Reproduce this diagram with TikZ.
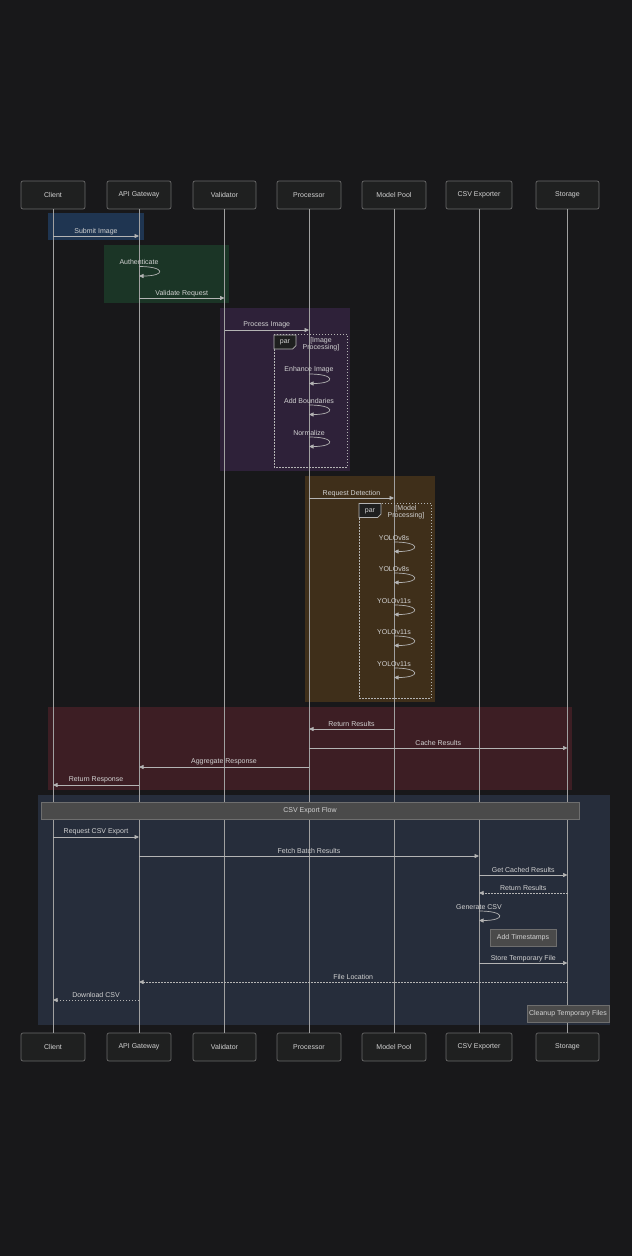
\documentclass[tikz,border=0pt]{standalone}
\usepackage{fontspec}
\setmainfont{Liberation Sans}
\usetikzlibrary{arrows.meta,calc}
\definecolor{bgc}{HTML}{18181A}
\definecolor{actfill}{HTML}{1F2020}
\definecolor{actline}{HTML}{6A6A6A}
\definecolor{lifec}{HTML}{A0A0A0}
\definecolor{msgc}{HTML}{B4B4B4}
\definecolor{txtc}{HTML}{D2D2D2}
\definecolor{rblue}{HTML}{1F3551}
\definecolor{rgreen}{HTML}{1B3526}
\definecolor{rpurple}{HTML}{2E2139}
\definecolor{rbrown}{HTML}{3F2F1A}
\definecolor{rred}{HTML}{3D1E24}
\definecolor{rnavy}{HTML}{262D3B}
\definecolor{notefill}{HTML}{4A4A4A}
\definecolor{noteline}{HTML}{6E6E6E}
\definecolor{tagfill}{HTML}{1E1F1F}
\tikzset{
  actor/.style={draw=actline, fill=actfill, rounded corners=2pt, line width=0.7pt,
    minimum width=64pt, minimum height=28pt, inner sep=0pt, text=txtc},
  life/.style={draw=lifec, line width=0.8pt},
  msg/.style={draw=msgc, line width=0.7pt, -{Triangle[length=4.5pt,width=4pt]}},
  dmsg/.style={msg, dash pattern=on 1.5pt off 1.5pt},
  lbl/.style={text=txtc, inner sep=0pt},
  parbox/.style={draw=msgc, line width=0.6pt, dash pattern=on 1.5pt off 1.5pt},
  partag/.style={draw=msgc, fill=tagfill, line width=0.7pt},
  notebox/.style={draw=noteline, fill=notefill, line width=0.8pt, text=txtc, inner sep=0pt, minimum height=17pt}
}
\newcommand\mymsg[5][msg]{%
  \draw[#1] (#2 |- 0,#4) -- (#3 |- 0,#4) coordinate[pos=0.5] (mm);
  \node[lbl] at ($(mm)+(0,-4.8)$) {#5};}
\newcommand\myloop[3]{%
  \draw[msg] (#1 |- 0,#2) .. controls +(27,0) and +(27,0) .. (#1 |- 0,#2+9.5);
  \node[lbl] at ($(#1 |- 0,#2)+(0,-4.3)$) {#3};}
\begin{document}
\begin{tikzpicture}[x=1pt,y=-1pt,font=\fontsize{7}{8}\selectfont]
\fill[bgc] (0,0) rectangle (632,1256);
\useasboundingbox (0,0) rectangle (632,1256);
% group backgrounds
\fill[rblue] (48,213) rectangle (144,240);
\fill[rgreen] (104,245) rectangle (229,303);
\fill[rpurple] (220,308) rectangle (350,471);
\fill[rbrown] (305,476) rectangle (435,702);
\fill[rred] (48,707) rectangle (572,790);
\fill[rnavy] (38,795) rectangle (610,1025);
% actors
\foreach \n/\x/\t/\w in {C/53/Client/64, A/139/API Gateway/64, V/224.5/Validator/63, P/309/Processor/64, M/394/Model Pool/64, E/479/CSV Exporter/66, S/567.5/Storage/63}{
  \node[actor, minimum width=\w pt] (t\n) at (\x,195) {\t};
  \node[actor, minimum width=\w pt] (b\n) at (\x,1047) {\t};
  \draw[life] (t\n.south) -- (b\n.north);
}
% messages
\mymsg{tC}{tA}{236}{Submit Image}
\myloop{tA}{266.5}{Authenticate}
\mymsg{tA}{tV}{298}{Validate Request}
\mymsg{tV}{tP}{330}{Process Image}
% par image processing
\draw[parbox] (274,334) rectangle (347,467);
\draw[partag] (274,335) -- (296,335) -- (296,345.5) -- (292.5,349) -- (274,349) -- cycle;
\node[lbl] (par1) at (285,342.5) {par};
\node[lbl, align=center, font=\fontsize{7}{7}\selectfont] (g1) at (321,344) {[Image\\Processing]};
\myloop{tP}{374}{Enhance Image}
\myloop{tP}{405}{Add Boundaries}
\myloop{tP}{437}{Normalize}
\mymsg{tP}{tM}{498}{Request Detection}
% par model processing
\draw[parbox] (359,503) rectangle (431,698);
\draw[partag] (359,503.5) -- (381,503.5) -- (381,514) -- (377.5,517.5) -- (359,517.5) -- cycle;
\node[lbl] (par2) at (370,511) {par};
\node[lbl, align=center, font=\fontsize{7}{7}\selectfont] (g2) at (406,512.5) {[Model\\Processing]};
\myloop{tM}{542}{YOLOv8s}
\myloop{tM}{573}{YOLOv8s}
\myloop{tM}{605}{YOLOv11s}
\myloop{tM}{636}{YOLOv11s}
\myloop{tM}{668}{YOLOv11s}
\mymsg{tM}{tP}{729}{Return Results}
\mymsg{tP}{tS}{748}{Cache Results}
\mymsg{tP}{tA}{767}{Aggregate Response}
\mymsg{tA}{tC}{785}{Return Response}
% CSV export
\node[notebox, minimum width=538pt] (n1) at (310,810.5) {CSV Export Flow};
\mymsg{tC}{tA}{837}{Request CSV Export}
\mymsg{tA}{tE}{856}{Fetch Batch Results}
\mymsg{tE}{tS}{875}{Get Cached Results}
\mymsg[dmsg]{tS}{tE}{893}{Return Results}
\myloop{tE}{911}{Generate CSV}
\node[notebox, minimum width=66pt] (n2) at (523,937.5) {Add Timestamps};
\mymsg{tE}{tS}{963}{Store Temporary File}
\mymsg[dmsg]{tS}{tA}{982}{File Location}
\mymsg[dmsg]{tA}{tC}{1000}{Download CSV}
\node[notebox, minimum width=82pt] (n3) at (568,1013.5) {Cleanup Temporary Files};
\end{tikzpicture}
\end{document}
